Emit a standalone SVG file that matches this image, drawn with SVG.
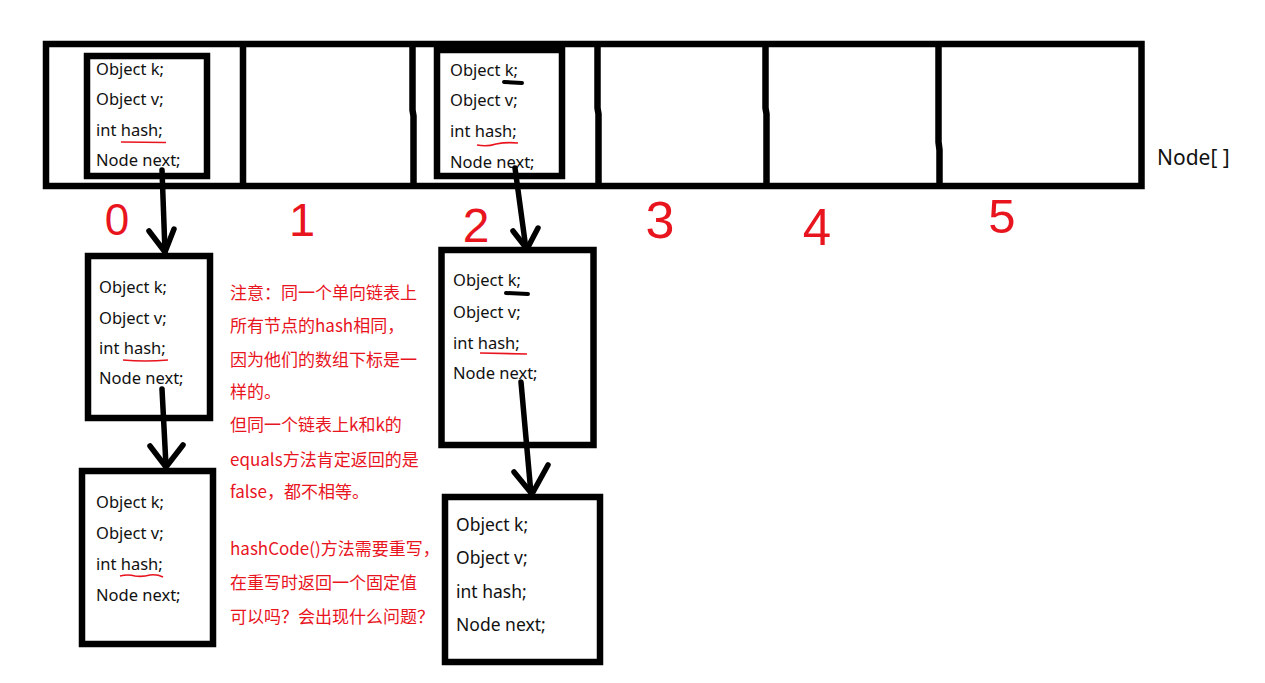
<svg xmlns="http://www.w3.org/2000/svg" width="1265" height="683" viewBox="0 0 1265 683">
<style>
.box{fill:#fff;stroke:#000;stroke-width:6.5}
.div{fill:none;stroke:#000;stroke-width:6.5;stroke-linejoin:round}
.f{font-family:"Noto Sans","Open Sans",sans-serif;font-size:16.5px;fill:#111}
.f2{font-family:"Noto Sans","Open Sans",sans-serif;font-size:17.5px;fill:#111}
.num{font-family:"Liberation Sans","Noto Sans",sans-serif;fill:#e8141e;text-anchor:middle}
.note{font-family:"Noto Sans CJK SC","Noto Sans",sans-serif;font-size:17px;fill:#e8141e}
.ar{fill:none;stroke:#000;stroke-width:5.5;stroke-linecap:round;stroke-linejoin:round}
.ul{fill:none;stroke:#e8141e;stroke-width:1.6}
.km{fill:none;stroke:#000;stroke-width:4;stroke-linecap:round}
</style>
<rect width="1265" height="683" fill="#fff"/>
<g id="array">
<rect class="box" x="46" y="44" width="1095.5" height="142" stroke-width="7"/>
<path class="div" d="M243,44 V186"/>
<path class="div" d="M412.5,44 V110 L413.5,116 V186"/>
<path class="div" d="M597.5,44 V108 L598.5,114 V186"/>
<path class="div" d="M765.5,44 V108 L766.5,114 V186"/>
<path class="div" d="M938.5,44 V142 L939.5,150 V186"/>
<text class="f" x="1157" y="165" style="font-size:21px">Node[ ]</text>
</g>
<g id="labels">
<text class="num" x="117" y="235" font-size="44">0</text>
<text class="num" x="302" y="236" font-size="47">1</text>
<text class="num" x="476" y="242" font-size="48">2</text>
<text class="num" x="660" y="238" font-size="52">3</text>
<text class="num" x="817" y="245" font-size="51">4</text>
<text class="num" x="1002" y="233" font-size="49">5</text>
</g>
<g id="node-a0">
<rect class="box" x="87" y="56" width="120" height="120"/>
<text class="f" x="96" y="75">Object k;</text>
<text class="f" x="96" y="105">Object v;</text>
<text class="f" x="96" y="136">int hash;</text>
<text class="f" x="96" y="166">Node next;</text>
<path class="ul" d="M121,142 L166,142.5"/>
</g>
<g id="node-a2">
<rect class="box" x="437" y="50" width="125" height="126"/>
<text class="f" x="450" y="76">Object k;</text>
<text class="f" x="450" y="106">Object v;</text>
<text class="f" x="450" y="137">int hash;</text>
<text class="f" x="450" y="168">Node next;</text>
<path class="km" d="M504,82 L522,83"/>
<path class="ul" d="M477,145 Q487,147 496,144 Q506,142 518,143"/>
</g>
<g id="node-c0-1">
<rect class="box" x="88" y="256" width="122" height="162"/>
<text class="f" x="99" y="293">Object k;</text>
<text class="f" x="99" y="324">Object v;</text>
<text class="f" x="99" y="354">int hash;</text>
<text class="f" x="99" y="384">Node next;</text>
<path class="ul" d="M123,360 Q145,362 168,360"/>
</g>
<g id="node-c0-2">
<rect class="box" x="82" y="471" width="131" height="173"/>
<text class="f" x="96" y="508">Object k;</text>
<text class="f" x="96" y="539">Object v;</text>
<text class="f" x="96" y="570">int hash;</text>
<text class="f" x="96" y="601">Node next;</text>
<path class="ul" d="M120,576 Q128,574 135,576 Q143,577 150,575 Q157,574 163,577"/>
</g>
<g id="node-c2-1">
<rect class="box" x="441.5" y="250" width="152" height="195"/>
<text class="f" x="453" y="286">Object k;</text>
<text class="f" x="453" y="318">Object v;</text>
<text class="f" x="453" y="349">int hash;</text>
<text class="f" x="453" y="379">Node next;</text>
<path class="km" d="M506,293 L528,294"/>
<path class="ul" d="M480,353 L527,354"/>
</g>
<g id="node-c2-2">
<rect class="box" x="445" y="497" width="155" height="165"/>
<text class="f2" x="456" y="531">Object k;</text>
<text class="f2" x="456" y="564">Object v;</text>
<text class="f2" x="456" y="598">int hash;</text>
<text class="f2" x="456" y="631">Node next;</text>
</g>
<g id="note">
<text class="note" x="230" y="299">注意：同一个单向链表上</text>
<text class="note" x="230" y="332">所有节点的hash相同，</text>
<text class="note" x="230" y="366">因为他们的数组下标是一</text>
<text class="note" x="230" y="398">样的。</text>
<text class="note" x="230" y="431">但同一个链表上k和k的</text>
<text class="note" x="230" y="466">equals方法肯定返回的是</text>
<text class="note" x="230" y="498">false，都不相等。</text>
<text class="note" x="230" y="555">hashCode()方法需要重写，</text>
<text class="note" x="230" y="589">在重写时返回一个固定值</text>
<text class="note" x="230" y="623">可以吗？会出现什么问题？</text>
</g>
<g id="connectors">
<path class="ar" d="M162,170 L165,252"/>
<path class="ar" d="M149,231 L165,252 L174,229"/>
<path class="ar" d="M162,389 L166,466"/>
<path class="ar" d="M150,446 L166,467 L183,445"/>
<path class="ar" d="M515,168 L526,249"/>
<path class="ar" d="M513,231 L527,249 L538,228"/>
<path class="ar" d="M521,382 L531,494"/>
<path class="ar" d="M514,472 L532,494 L548,465"/>
</g>
</svg>
